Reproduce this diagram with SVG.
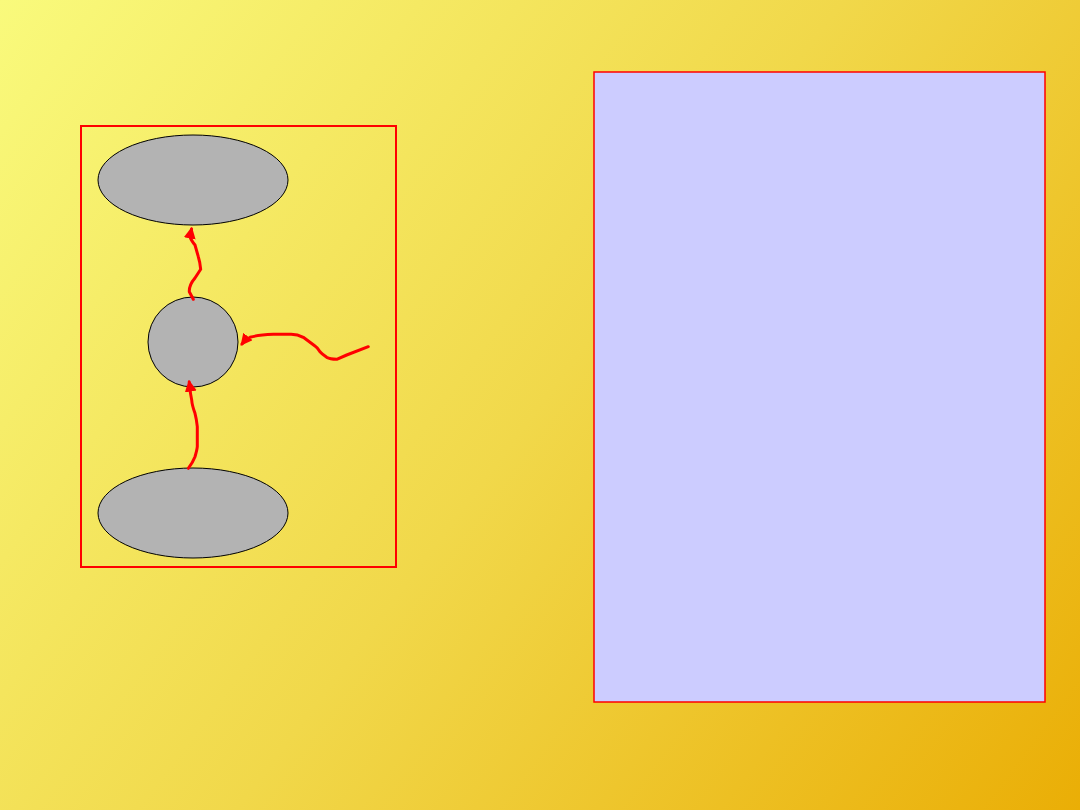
<svg xmlns="http://www.w3.org/2000/svg" width="1080" height="810" viewBox="0 0 1080 810">
  <defs>
    <linearGradient id="bg" x1="0" y1="0" x2="1080" y2="810" gradientUnits="userSpaceOnUse">
      <stop offset="0" stop-color="#F9FA7C"/>
      <stop offset="0.5" stop-color="#F1D84A"/>
      <stop offset="1" stop-color="#EAAE06"/>
    </linearGradient>
    <marker id="arrow" viewBox="0 0 10 10" refX="8" refY="5" markerWidth="4" markerHeight="4" orient="auto" markerUnits="strokeWidth">
      <path d="M0,0 L10,5 L0,10 z" fill="#FF0000"/>
    </marker>
  </defs>
  <style>
    .node { fill: #B3B3B3; stroke: #000000; stroke-width: 1; }
    .frame { fill: none; stroke: #FF0000; stroke-width: 2; }
    .panel { fill: #CCCCFF; stroke: #FF0000; stroke-width: 1.5; }
    .conn { fill: none; stroke: #FF0000; stroke-width: 3; stroke-linecap: round; stroke-linejoin: round; marker-end: url(#arrow); }
  </style>
  <rect x="0" y="0" width="1080" height="810" fill="url(#bg)"/>
  <rect id="frame" class="frame" x="81" y="126" width="315" height="441"/>
  <rect id="panel" class="panel" x="594" y="72" width="451" height="630"/>
  <g id="node-top"><ellipse class="node" cx="193" cy="180" rx="95" ry="45"/></g>
  <g id="node-middle"><circle class="node" cx="193" cy="342" r="45"/></g>
  <g id="node-bottom"><ellipse class="node" cx="193" cy="513" rx="95" ry="45"/></g>
  <g id="connectors">
    <path class="conn" d="M193.3,299.3 L189.3,291.7 Q189,285 195,278 L200.7,269.3 Q200,262 198.3,256.7 L195,245 Q191,240 190,236.7 L191.5,229"/>
    <path class="conn" d="M368.3,346.7 Q357,351 346.7,355 L336.7,359.3 Q330,359 326.7,357.3 Q322,354 320,351.7 Q318,348 315,346 L303.3,337.3 Q297,334 290,334.3 Q280,334 273.3,334.3 Q258,335 250,337.3 Q246,339 242,344"/>
    <path class="conn" d="M188.3,468.3 Q193,462 195,456.7 Q197,450 197.3,446.7 L197.3,426.7 Q196.5,419 195,413.3 Q192,405 191.7,400 Q190,392 190,386.7 L189.2,382"/>
  </g>
</svg>
